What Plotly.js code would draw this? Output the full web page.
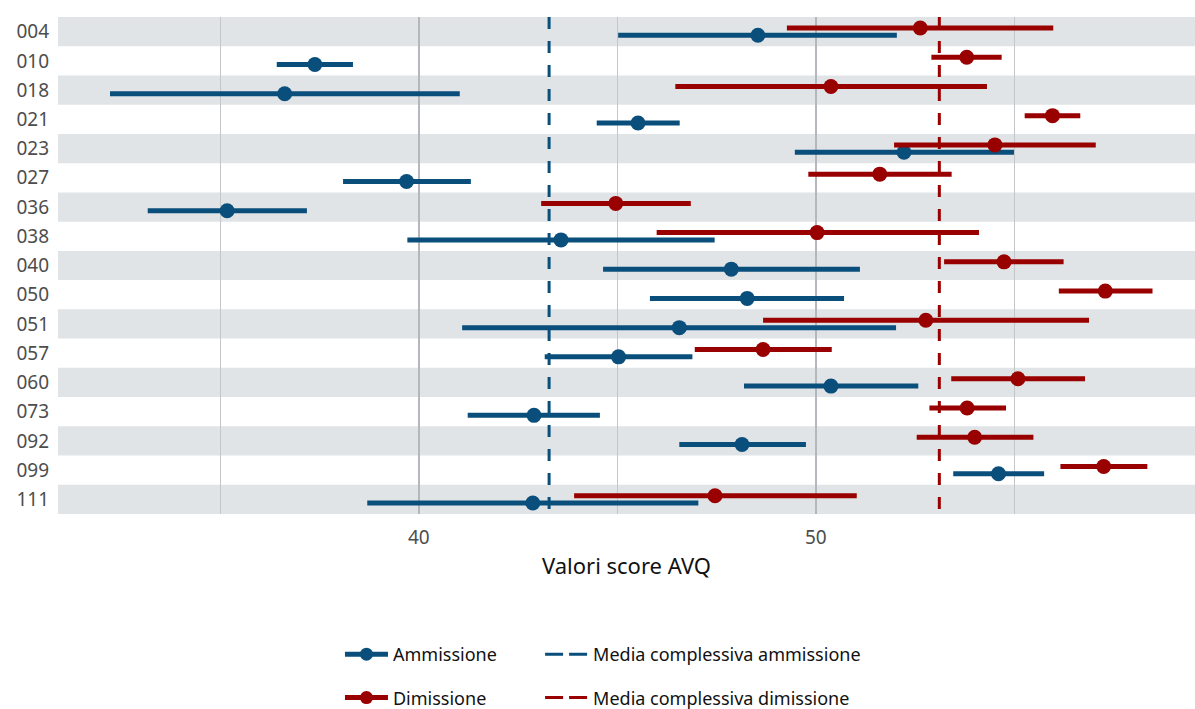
<!DOCTYPE html>
<html>
<head>
<meta charset="utf-8">
<script src="https://cdn.plot.ly/plotly-3.0.1.min.js"></script>
<style>html,body{margin:0;padding:0;background:#fff}#chart{width:1195px;height:709px}</style>
</head>
<body>
<div id="chart"></div>
<script>
// Categories (structures), top to bottom
const categories = ['004','010','018','021','023','027','036','038','040','050','051','057','060','073','092','099','111'];

// Ammissione: mean score and interval bounds
const ammMean = [48.54, 37.38, 36.62, 45.52, 52.22, 39.69, 35.17, 43.58, 47.87, 48.27, 46.56, 45.03, 50.38, 42.90, 48.14, 54.60, 42.87];
const ammLow  = [45.02, 36.42, 32.22, 44.48, 49.47, 38.09, 33.17, 39.71, 44.64, 45.82, 41.09, 43.17, 48.19, 41.23, 46.56, 53.46, 38.70];
const ammHigh = [52.04, 38.34, 41.03, 46.57, 54.99, 41.31, 37.18, 47.45, 51.11, 50.71, 52.02, 46.89, 52.58, 44.56, 49.75, 55.75, 47.04];

// Dimissione: mean score and interval bounds
const dimMean = [52.63, 53.80, 50.38, 55.96, 54.51, 51.61, 44.96, 50.03, 54.74, 57.29, 52.77, 48.67, 55.09, 53.81, 54.00, 57.25, 47.46];
const dimLow  = [49.27, 52.91, 46.46, 55.26, 51.97, 49.81, 43.08, 45.99, 53.23, 56.12, 48.67, 46.95, 53.41, 52.86, 52.54, 56.16, 43.91];
const dimHigh = [55.98, 54.68, 54.31, 56.66, 57.05, 53.42, 46.85, 54.11, 56.24, 58.48, 56.88, 50.40, 56.78, 54.79, 55.48, 58.35, 51.03];

// Overall means
const mediaAmmissione = 43.28;
const mediaDimissione = 53.11;

const BLUE = '#0a4f7c';
const RED = '#990000';
const FONT = '"Noto Sans", "Open Sans", sans-serif';

const idx = categories.map((_, i) => i);
const OFF = 0.125;
const yAmm = idx.map(i => i + OFF);
const yDim = idx.map(i => i - OFF);

function pointTrace(name, mean, low, high, ypos, color) {
  return {
    type: 'scatter', mode: 'markers', name: name, showlegend: false,
    x: mean, y: ypos,
    marker: {color: color, size: 15},
    error_x: {
      type: 'data', symmetric: false,
      array: high.map((h, i) => h - mean[i]),
      arrayminus: low.map((l, i) => mean[i] - l),
      color: color, thickness: 5, width: 0
    },
    hoverinfo: 'x'
  };
}

function meanLine(name, value, color) {
  return {
    type: 'scatter', mode: 'lines', name: name, showlegend: false,
    x: [value, value], y: [-0.5, categories.length - 0.5],
    line: {color: color, width: 3, dash: '12px,12px'},
    hoverinfo: 'skip'
  };
}

function legendItem(name, color, legend, group, withMarker, dash) {
  return {
    type: 'scatter', mode: withMarker ? 'lines+markers' : 'lines', name: name,
    x: [null], y: [null], legend: legend, legendgroup: group, showlegend: true,
    line: {color: color, width: withMarker ? 5 : 3, dash: dash || 'solid'},
    marker: {color: color, size: 13},
    hoverinfo: 'skip'
  };
}

const data = [
  meanLine('Media complessiva ammissione', mediaAmmissione, BLUE),
  meanLine('Media complessiva dimissione', mediaDimissione, RED),
  pointTrace('Ammissione', ammMean, ammLow, ammHigh, yAmm, BLUE),
  pointTrace('Dimissione', dimMean, dimLow, dimHigh, yDim, RED),
  legendItem('Ammissione', BLUE, 'legend', 'a', true),
  legendItem('Dimissione', RED, 'legend', 'b', true),
  legendItem('Media complessiva ammissione', BLUE, 'legend2', 'c', false, '18px,6px'),
  legendItem('Media complessiva dimissione', RED, 'legend2', 'd', false, '18px,6px')
];

const shapes = idx.filter(i => i % 2 === 0).map(i => ({
  type: 'rect', xref: 'paper', yref: 'y', x0: 0, x1: 1, y0: i - 0.5, y1: i + 0.5,
  fillcolor: '#e1e4e7', line: {width: 0}, layer: 'below'
}));

const legendCommon = {
  orientation: 'v', yanchor: 'top', xanchor: 'left',
  font: {family: FONT, size: 18, color: '#111111'},
  tracegroupgap: 17, bgcolor: 'rgba(0,0,0,0)', itemwidth: 43
};

const layout = {
  width: 1195, height: 709,
  margin: {l: 58, r: 0, t: 17, b: 195, autoexpand: false},
  paper_bgcolor: '#ffffff', plot_bgcolor: '#ffffff',
  font: {family: FONT, size: 18, color: '#4d4d4d'},
  showlegend: true,
  xaxis: {
    range: [30.91, 59.55], tick0: 0, dtick: 10,
    showgrid: true, gridcolor: '#b4b8bc', gridwidth: 2,
    zeroline: false, showline: false, ticks: '',
    tickfont: {family: FONT, size: 19, color: '#4d4d4d'},
    ticklabelstandoff: 10,
    minor: {dtick: 5, tick0: 0, showgrid: true, gridcolor: '#c4c7ca', gridwidth: 1},
    title: {text: 'Valori score AVQ', font: {family: FONT, size: 22, color: '#111111'}, standoff: 9},
    fixedrange: true, automargin: false
  },
  yaxis: {
    range: [categories.length - 0.5, -0.5],
    tickvals: idx, ticktext: categories,
    showgrid: false, zeroline: false, showline: false, ticks: '',
    tickfont: {family: FONT, size: 19, color: '#4d4d4d'},
    ticklabelstandoff: 8,
    fixedrange: true, automargin: false
  },
  shapes: shapes,
  legend: Object.assign({}, legendCommon, {x: 0.248, y: -0.2455}),
  legend2: Object.assign({}, legendCommon, {x: 0.424, y: -0.2455})
};

Plotly.newPlot('chart', data, layout, {displayModeBar: false, staticPlot: true});
</script>
</body>
</html>
